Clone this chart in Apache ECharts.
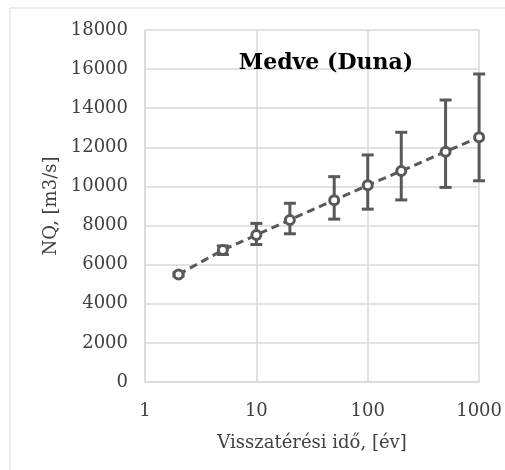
<!DOCTYPE html>
<html>
<head>
<meta charset="utf-8">
<script src="https://cdn.jsdelivr.net/npm/echarts@6/dist/echarts.min.js"></script>
<style>
  html, body { margin: 0; padding: 0; background: #fff; }
  #chart { width: 505px; height: 470px; }
</style>
</head>
<body>
<div id="chart"></div>
<script>
// return period (years) and discharge estimates
const years = [2, 5, 10, 20, 50, 100, 200, 500, 1000];
const nq = [5500, 6750, 7520, 8290, 9300, 10060, 10790, 11780, 12510];
const errLow = [5420, 6520, 7030, 7580, 8330, 8840, 9310, 9950, 10290];
const errHigh = [5580, 6960, 8110, 9140, 10500, 11610, 12770, 14420, 15750];
const yTicks = [0, 2000, 4000, 6000, 8000, 10000, 12000, 14000, 16000, 18000];

const gray = "#595959";
const gridGray = "#d9d9d9";
const font = "DejaVu Serif";

const chart = echarts.init(document.getElementById("chart"));

const option = {
  animation: false,
  backgroundColor: "#fff",
  graphic: [
    {
      type: "rect",
      shape: { x: 10, y: 8, width: 520, height: 480 },
      style: { fill: "none", stroke: gridGray, lineWidth: 1 },
      silent: true,
    },
  ],
  title: {
    text: "Medve (Duna)",
    left: 321,
    top: 47,
    textAlign: "center",
    textStyle: {
      fontFamily: font,
      fontWeight: "bold",
      fontSize: 22,
      color: "#000",
    },
  },
  grid: { left: 145, right: 25, top: 30, bottom: 88 },
  xAxis: {
    type: "log",
    logBase: 10,
    min: 1,
    max: 1000,
    name: "Visszatérési idő, [év]",
    nameLocation: "middle",
    nameGap: 52,
    nameTextStyle: { fontFamily: font, fontSize: 18, color: "#404040" },
    axisLine: { lineStyle: { color: gridGray, width: 1.5 } },
    axisTick: { show: false },
    minorTick: { show: false },
    axisLabel: {
      fontFamily: font,
      fontSize: 18,
      color: "#404040",
      margin: 20,
      formatter: (v) => String(v),
    },
    splitLine: { show: true, lineStyle: { color: gridGray, width: 1.5 } },
  },
  yAxis: {
    type: "value",
    min: yTicks[0],
    max: yTicks[yTicks.length - 1],
    interval: 2000,
    name: "NQ, [m3/s]",
    nameLocation: "middle",
    nameGap: 83,
    nameTextStyle: { fontFamily: font, fontSize: 18, color: "#404040" },
    axisLine: { show: true, lineStyle: { color: gridGray, width: 1.5 } },
    axisTick: { show: false },
    axisLabel: {
      fontFamily: font,
      fontSize: 18,
      color: "#404040",
      margin: 17,
      formatter: (v) => String(v),
    },
    splitLine: { show: true, lineStyle: { color: gridGray, width: 1.5 } },
  },
  series: [
    {
      type: "custom",
      name: "errors",
      data: years.map((y, i) => [y, errLow[i], errHigh[i]]),
      renderItem: function (params, api) {
        const lo = api.coord([api.value(0), api.value(1)]);
        const hi = api.coord([api.value(0), api.value(2)]);
        const w = 6;
        const style = { stroke: gray, lineWidth: 3, fill: "none" };
        return {
          type: "group",
          children: [
            { type: "line", shape: { x1: lo[0], y1: lo[1], x2: hi[0], y2: hi[1] }, style: style },
            { type: "line", shape: { x1: lo[0] - w, y1: lo[1], x2: lo[0] + w, y2: lo[1] }, style: style },
            { type: "line", shape: { x1: hi[0] - w, y1: hi[1], x2: hi[0] + w, y2: hi[1] }, style: style },
          ],
        };
      },
      z: 2,
    },
    {
      type: "line",
      name: "NQ",
      data: years.map((y, i) => [y, nq[i]]),
      symbol: "circle",
      symbolSize: 9,
      lineStyle: { color: gray, width: 3, type: [8, 5] },
      itemStyle: { color: "#fff", borderColor: gray, borderWidth: 3 },
      z: 3,
    },
  ],
};

chart.setOption(option);
</script>
</body>
</html>
